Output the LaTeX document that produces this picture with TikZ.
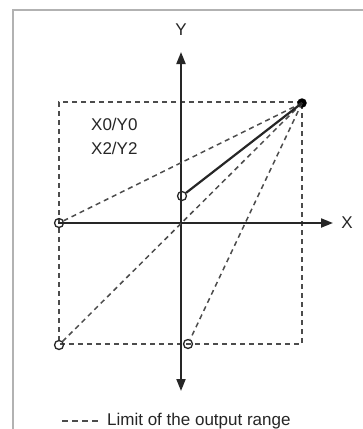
\documentclass[tikz,border=0pt]{standalone}
\usepackage{fontspec}
\setmainfont{Liberation Sans}
\usetikzlibrary{arrows.meta}
\begin{document}
\begin{tikzpicture}[x=1pt,y=-1pt,
  axis/.style={line width=2pt,draw=black!85,-{Triangle[length=12pt,width=9pt]}},
  limit/.style={line width=1.5pt,draw=black!70,dash pattern=on 5pt off 4pt},
  opendot/.style={circle,draw=black!85,line width=1.3pt,minimum size=9pt,inner sep=0pt},
  fulldot/.style={circle,fill=black,minimum size=9.5pt,inner sep=0pt},
  lbl/.style={font=\fontsize{17}{20}\selectfont,text=black!85,inner sep=0pt}]
\useasboundingbox (0,0) rectangle (363,429);
\fill[white] (0,0) rectangle (363,429);
% frame
\draw[black!30,line width=1.2pt] (13,429) -- (13,10) -- (363,10);
% coordinates
\coordinate (O) at (181,223);
\coordinate (xl) at (58,223);
\coordinate (xr) at (333,223);
\coordinate (yt) at (181,52);
\coordinate (yb) at (181,391);
\coordinate (tl) at (59,102);
\coordinate (tr) at (302,102);
\coordinate (br) at (302,344);
\coordinate (bl) at (59,344);
% dashed rectangle
\draw[limit] (tr) -- (tl) -- (bl) -- (br) -- cycle;
% axes
\draw[axis] (xl) -- (xr);
\draw[axis] (O) -- (yt);
\draw[axis] (O) -- (yb);
\node[lbl] (ylab) at (181,30) {Y};
\node[lbl] (xlab) at (347,223) {X};
% points
\node[fulldot] (D) at (302,103) {};
\node[opendot] (P1) at (182,196) {};
\node[opendot] (P2) at (59,223) {};
\node[opendot] (P3) at (59,345) {};
\node[opendot] (P4) at (188,344) {};
% dashed lines
\draw[limit] (D.center) -- (P2);
\draw[limit] (D.center) -- (P3);
\draw[limit] (D.center) -- (P4);
% solid line
\draw[line width=2.2pt,black!85] (P1) -- (D.center);
% labels
\node[lbl,anchor=west] (t1) at (91,124) {X0/Y0};
\node[lbl,anchor=west] (t2) at (91,148) {X2/Y2};
% legend
\coordinate (la) at (62,421);
\coordinate (lb) at (98,421);
\draw[limit,line width=1.3pt,dash pattern=on 6pt off 4pt] (la) -- (lb);
\node[lbl,anchor=west] (leg) at (107,421) {Limit of the output range};
\end{tikzpicture}
\end{document}
